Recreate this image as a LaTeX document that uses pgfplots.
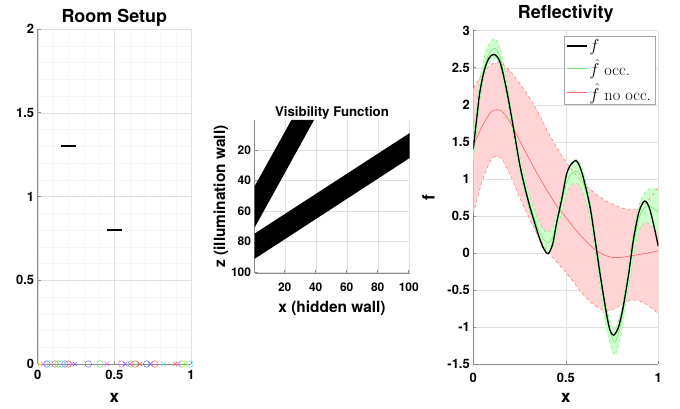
\documentclass[border=0pt]{standalone}
\usepackage{fontspec}
\usepackage{pgfplots}
\pgfplotsset{compat=1.18}
\usepackage{pgfplotstable}
\usepgfplotslibrary{fillbetween}
\newfontfamily\hel{TeX Gyre Heros}

\definecolor{gridc}{gray}{0.88}
\definecolor{axc}{gray}{0.55}
\definecolor{pinkfill}{RGB}{255,212,212}
\definecolor{greenfill}{RGB}{205,255,205}
\definecolor{redline}{RGB}{255,95,95}
\definecolor{greenline}{RGB}{110,235,110}
\definecolor{mred}{RGB}{255,90,90}
\definecolor{mgreen}{RGB}{90,225,90}
\definecolor{mblue}{RGB}{110,110,255}
\definecolor{mcyan}{RGB}{80,225,225}
\definecolor{mmag}{RGB}{240,100,240}
\definecolor{myel}{RGB}{235,235,80}

\pgfplotstableread{
x m u l
0 1.45 2.22 0.53
0.05 1.72 2.42 0.98
0.1 1.91 2.55 1.27
0.15 1.92 2.56 1.28
0.2 1.76 2.45 1.05
0.25 1.52 2.29 0.75
0.3 1.28 2.11 0.48
0.35 1.05 1.90 0.23
0.4 0.84 1.65 0.03
0.45 0.64 1.43 -0.12
0.5 0.48 1.23 -0.26
0.55 0.32 1.07 -0.42
0.6 0.18 0.93 -0.58
0.65 0.06 0.82 -0.70
0.7 -0.02 0.73 -0.77
0.75 -0.06 0.66 -0.77
0.8 -0.06 0.61 -0.70
0.85 -0.04 0.58 -0.64
0.9 -0.02 0.61 -0.65
0.95 0.00 0.72 -0.72
1 0.03 0.89 -0.82
}\redtab

\pgfplotstableread{
x m u l
0 1.40 1.60 1.20
0.036 2.20 2.35 2.05
0.07 2.60 2.74 2.46
0.112 2.76 2.89 2.63
0.144 2.65 2.77 2.53
0.18 2.22 2.33 2.11
0.216 1.70 1.80 1.60
0.252 1.20 1.30 1.10
0.306 0.66 0.76 0.56
0.355 0.30 0.42 0.18
0.39 0.15 0.29 0.01
0.42 0.16 0.30 0.02
0.45 0.38 0.51 0.25
0.48 0.70 0.83 0.57
0.505 0.95 1.09 0.81
0.53 1.07 1.22 0.92
0.559 1.10 1.26 0.94
0.59 0.98 1.13 0.83
0.631 0.58 0.70 0.46
0.685 -0.32 -0.20 -0.44
0.72 -0.88 -0.74 -1.02
0.76 -1.20 -1.03 -1.37
0.785 -1.08 -0.91 -1.25
0.81 -0.78 -0.62 -0.94
0.865 0.10 0.25 -0.05
0.9 0.50 0.68 0.32
0.93 0.62 0.82 0.42
0.96 0.62 0.87 0.37
1 0.55 0.85 0.25
}\greentab

\pgfplotstableread{
x y
0 1.40
0.02 1.85
0.036 2.18
0.06 2.47
0.085 2.63
0.112 2.68
0.144 2.58
0.18 2.20
0.216 1.70
0.252 1.18
0.28 0.87
0.306 0.62
0.33 0.42
0.355 0.22
0.38 0.06
0.405 -0.01
0.43 0.13
0.45 0.40
0.48 0.75
0.505 1.07
0.53 1.20
0.559 1.24
0.59 1.06
0.631 0.62
0.66 0.15
0.685 -0.28
0.72 -0.82
0.74 -1.05
0.76 -1.11
0.785 -1.00
0.81 -0.73
0.84 -0.28
0.865 0.17
0.895 0.55
0.925 0.70
0.95 0.62
0.973 0.40
1 0.09
}\ftab

\pgfplotsset{
  mstyle/.style={
    scale only axis, anchor=south west,
    axis x line=bottom, axis y line=left,
    axis line style={-, axc, line width=0.6bp},
    tick align=inside, major tick length=3bp, minor tick length=0bp,
    tick style={axc, line width=0.5bp},
    grid=major, major grid style={gridc, line width=0.4bp},
    /pgf/number format/assume math mode=true,
    ticklabel style={font=\hel\bfseries\fontsize{13}{13}\selectfont},
    title style={font=\hel\bfseries\fontsize{18}{18}\selectfont},
    label style={font=\hel\bfseries\fontsize{17}{17}\selectfont},
  }
}

\begin{document}
\begin{tikzpicture}
\path (0,0) rectangle (680bp,409bp);

% ---------------- Room Setup
\begin{axis}[mstyle,
  at={(37.7bp,45bp)}, width=153.3bp, height=335bp,
  xmin=0, xmax=1, ymin=0, ymax=2,
  xtick={0,0.5,1}, xticklabels={0,0.5,1},
  ytick={0,0.5,1,1.5,2}, yticklabels={0,0.5,1,1.5,2},
  minor x tick num=4, minor y tick num=4,
  grid=both, minor grid style={gray!8, line width=0.3bp},
  title={Room Setup}, xlabel={x},
  title style={yshift=-7bp},
  xticklabel style={yshift=-3bp},
  xlabel style={yshift=-6bp},
  clip=false,
]
\addplot[black, line width=2.3bp] coordinates {(0.15,1.3) (0.25,1.3)};
\addplot[black, line width=2.3bp] coordinates {(0.45,0.8) (0.55,0.8)};
% receivers (circles) and sources (crosses) on the floor
\addplot[only marks, mark=o, mark size=3.3bp, mblue, line width=0.5bp] coordinates {(0.059,0) (0.178,0) (0.33,0) (0.711,0)};
\addplot[only marks, mark=o, mark size=3.3bp, mcyan, line width=0.5bp] coordinates {(0.08,0) (0.157,0) (0.993,0)};
\addplot[only marks, mark=o, mark size=3.3bp, mred, line width=0.5bp] coordinates {(0.113,0) (0.2,0) (0.635,0) (0.765,0)};
\addplot[only marks, mark=o, mark size=3.3bp, mgreen, line width=0.5bp] coordinates {(0.135,0) (0.407,0) (0.939,0) (0.61,0)};
\addplot[only marks, mark=o, mark size=3.3bp, mmag, line width=0.5bp] coordinates {(0.548,0)};
\addplot[only marks, mark=o, mark size=3.3bp, myel, line width=0.5bp] coordinates {(0.961,0)};
\addplot[only marks, mark=x, mark size=3.3bp, myel, line width=0.5bp] coordinates {(0.015,0)};
\addplot[only marks, mark=x, mark size=3.3bp, mmag, line width=0.5bp] coordinates {(0.037,0) (0.222,0) (0.45,0) (0.602,0) (0.917,0)};
\addplot[only marks, mark=x, mark size=3.3bp, mblue, line width=0.5bp] coordinates {(0.243,0) (0.57,0) (0.733,0)};
\addplot[only marks, mark=x, mark size=3.3bp, mred, line width=0.5bp] coordinates {(0.667,0) (0.896,0)};
\addplot[only marks, mark=x, mark size=3.3bp, mcyan, line width=0.5bp] coordinates {(0.82,0)};
\end{axis}

% ---------------- Visibility Function
\begin{axis}[mstyle,
  at={(254.5bp,136bp)}, width=155bp, height=153bp,
  xmin=0.5, xmax=100.5, ymin=0.5, ymax=100.5,
  y dir=reverse,
  xtick={20,40,60,80,100}, ytick={20,40,60,80,100},
  ticklabel style={font=\hel\bfseries\fontsize{12}{12}\selectfont},
  xticklabel style={yshift=-6bp},
  title style={font=\hel\bfseries\fontsize{13.3}{13.3}\selectfont, yshift=-9bp},
  label style={font=\hel\bfseries\fontsize{15.5}{15.5}\selectfont},
  xlabel style={yshift=-3bp},
  ylabel style={yshift=-4bp},
  title={Visibility Function},
  xlabel={x (hidden wall)}, ylabel={z (illumination wall)},
]
\addplot[fill=black, draw=none] coordinates {(0.5,43.9) (24.3,0.5) (38.9,0.5) (0.5,71)} -- cycle;
\addplot[fill=black, draw=none] coordinates {(0.5,74.8) (100.5,9.1) (100.5,25.4) (0.5,91.3)} -- cycle;
\end{axis}

% ---------------- Reflectivity
\begin{axis}[mstyle,
  at={(473.3bp,45bp)}, width=185bp, height=333.3bp,
  xmin=0, xmax=1, ymin=-1.5, ymax=3,
  xtick={0,0.5,1}, xticklabels={0,0.5,1},
  ytick={-1.5,-1,-0.5,0,0.5,1,1.5,2,2.5,3},
  yticklabels={-1.5,-1,-0.5,0,0.5,1,1.5,2,2.5,3},
  title={Reflectivity}, xlabel={x}, ylabel={f},
  title style={yshift=-1bp},
  xticklabel style={yshift=-6bp},
  xlabel style={yshift=-4bp},
  ylabel style={yshift=6bp},
  legend style={at={(0.982,0.984)}, anchor=north east, draw=black!35,
    font=\fontsize{16.5}{18}\selectfont, cells={anchor=west},
    inner xsep=2bp, inner ysep=1bp, row sep=2.5bp},
  legend image code/.code={\draw[#1] (0bp,0bp) -- (20bp,0bp);},
]
\addlegendimage{black, line width=1.3bp}
\addlegendentry{$f$}
\addlegendimage{greenline, line width=0.6bp}
\addlegendentry{$\hat{f}$ occ.}
\addlegendimage{redline, line width=0.6bp}
\addlegendentry{$\hat{f}$ no occ.}

\addplot[name path=ru, draw=none, smooth, forget plot] table[x=x, y=u] {\redtab};
\addplot[name path=rl, draw=none, smooth, forget plot] table[x=x, y=l] {\redtab};
\addplot[pinkfill, forget plot] fill between[of=ru and rl];
\addplot[name path=gu, draw=none, smooth, forget plot] table[x=x, y=u] {\greentab};
\addplot[name path=gl, draw=none, smooth, forget plot] table[x=x, y=l] {\greentab};
\addplot[greenfill, forget plot] fill between[of=gu and gl];

\addplot[redline, line width=0.4bp, dashed, smooth, forget plot] table[x=x, y=u] {\redtab};
\addplot[redline, line width=0.4bp, dashed, smooth, forget plot] table[x=x, y=l] {\redtab};
\addplot[redline, line width=0.6bp, smooth, forget plot] table[x=x, y=m] {\redtab};
\addplot[greenline, line width=0.4bp, dashed, smooth, forget plot] table[x=x, y=u] {\greentab};
\addplot[greenline, line width=0.4bp, dashed, smooth, forget plot] table[x=x, y=l] {\greentab};
\addplot[greenline, line width=0.6bp, smooth, forget plot] table[x=x, y=m] {\greentab};
\addplot[black, line width=1.3bp, smooth, forget plot] table[x=x, y=y] {\ftab};
\end{axis}
\end{tikzpicture}
\end{document}
